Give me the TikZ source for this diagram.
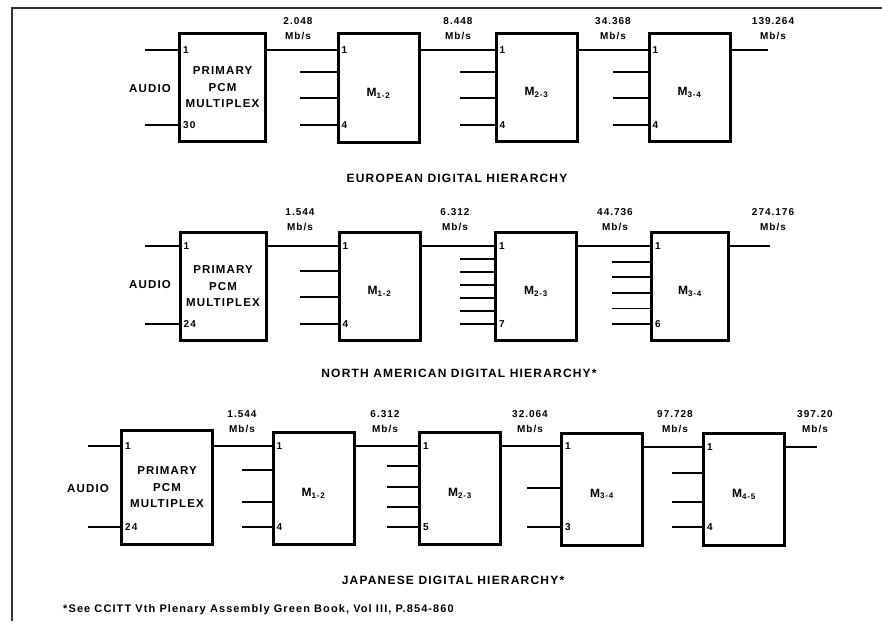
\documentclass[tikz,border=0pt]{standalone}
\usepackage{fontspec}
\setmainfont{Liberation Sans}[LetterSpace=10]
\usetikzlibrary{positioning, calc}

\newcommand\lblfont{\fontsize{11.5}{16.5}\selectfont\bfseries}
\newcommand\capfont{\fontsize{12}{14}\selectfont\bfseries}
\newcommand\ratefont{\fontsize{10}{15}\selectfont\bfseries}
\newcommand\muxfont{\fontsize{12}{14}\selectfont\bfseries}
\newcommand\notefont{\fontsize{11}{13}\selectfont\bfseries}

\begin{document}
\begin{tikzpicture}[x=1pt, y=-1pt,
  muxbox/.style={draw, line width=3pt, minimum width=81pt, minimum height=108pt, inner sep=0pt},
  pcmbox/.style={muxbox, minimum width=86pt, align=center, font=\lblfont},
  wire/.style={line width=1.8pt},
  frame/.style={line width=1.6pt, black!80},
  rate/.style={align=center, inner sep=0pt, font=\ratefont},
  portnum/.style={anchor=west, xshift=5pt, inner sep=0pt, font=\ratefont},
  muxname/.style={inner sep=0pt, yshift=-5pt, font=\muxfont},
  caption/.style={inner sep=0pt, font=\lblfont},
  heading/.style={inner sep=0pt, font=\capfont},
  note/.style={anchor=west, inner sep=0pt, font=\notefont}]

\useasboundingbox (0,0) rectangle (882,623);

% frame
\draw[frame] (882,8) -- (12,8) -- (12,621);

% ===== European: 30 ch -> 2.048 | 8.448 | 34.368 | 139.264 =====
\node[pcmbox] (pcm1) at (222.5,87.5) {PRIMARY\\PCM\\MULTIPLEX};
\node[muxbox] (m12a) at (378.5,88) {};
\node[muxbox] (m23a) at (536.5,87.5) {};
\node[muxbox] (m34a) at (689.5,87.5) {};
\node[muxname] (m12a-t) at (m12a) {M\textsubscript{1-2}};
\node[muxname] (m23a-t) at (m23a) {M\textsubscript{2-3}};
\node[muxname] (m34a-t) at (m34a) {M\textsubscript{3-4}};

\foreach \y [count=\i] in {50,125} \coordinate (pcm1-\i) at (pcm1.west |- 0,\y);
\foreach \y [count=\i] in {50,72,98,125} {
  \coordinate (m12a-\i) at (m12a.west |- 0,\y);
  \coordinate (m23a-\i) at (m23a.west |- 0,\y);
  \coordinate (m34a-\i) at (m34a.west |- 0,\y);
}
\coordinate (s0a) at (145,0);
\coordinate (s1a) at (300,0);
\coordinate (s2a) at (460,0);
\coordinate (s3a) at (613,0);
\coordinate (outa) at (768,50);

\foreach \i in {1,2} \draw[wire] (s0a |- pcm1-\i) -- (pcm1-\i);
\draw[wire] (pcm1.east |- m12a-1) -- (m12a-1);
\draw[wire] (m12a.east |- m23a-1) -- (m23a-1);
\draw[wire] (m23a.east |- m34a-1) -- (m34a-1);
\draw[wire] (m34a.east |- outa) -- (outa);
\foreach \i in {2,3,4} {
  \draw[wire] (s1a |- m12a-\i) -- (m12a-\i);
  \draw[wire] (s2a |- m23a-\i) -- (m23a-\i);
  \draw[wire] (s3a |- m34a-\i) -- (m34a-\i);
}

\node[portnum] (pcm1-n1) at (pcm1-1) {1};
\node[portnum] (pcm1-n2) at (pcm1-2) {30};
\node[portnum] (m12a-n1) at (m12a-1) {1};
\node[portnum] (m12a-n4) at (m12a-4) {4};
\node[portnum] (m23a-n1) at (m23a-1) {1};
\node[portnum] (m23a-n4) at (m23a-4) {4};
\node[portnum] (m34a-n1) at (m34a-1) {1};
\node[portnum] (m34a-n4) at (m34a-4) {4};

\node[caption] (audioa) at (150,89) {AUDIO};
\node[rate] (r1a) at (298,28.5) {2.048\\Mb/s};
\node[rate] (r2a) at (458,28.5) {8.448\\Mb/s};
\node[rate] (r3a) at (613,28.5) {34.368\\Mb/s};
\node[rate] (r4a) at (773,28.5) {139.264\\Mb/s};
\node[heading] (capa) at (457,178) {EUROPEAN DIGITAL HIERARCHY};

% ===== North American: 24 ch -> 1.544 | 6.312 | 44.736 | 274.176 =====
\node[pcmbox] (pcm2) at (223,286.5) {PRIMARY\\PCM\\MULTIPLEX};
\node[muxbox] (m12b) at (379.5,286.5) {};
\node[muxbox] (m23b) at (536,286.5) {};
\node[muxbox, minimum width=77pt] (m34b) at (690,286.5) {};
\node[muxname] (m12b-t) at (m12b) {M\textsubscript{1-2}};
\node[muxname] (m23b-t) at (m23b) {M\textsubscript{2-3}};
\node[muxname] (m34b-t) at (m34b) {M\textsubscript{3-4}};

\foreach \y [count=\i] in {246,324} \coordinate (pcm2-\i) at (pcm2.west |- 0,\y);
\foreach \y [count=\i] in {246,271,297,324} \coordinate (m12b-\i) at (m12b.west |- 0,\y);
\foreach \y [count=\i] in {246,259,272,285,298,311,324} \coordinate (m23b-\i) at (m23b.west |- 0,\y);
\foreach \y [count=\i] in {246,261.6,277.2,292.8,308.4,324} \coordinate (m34b-\i) at (m34b.west |- 0,\y);
\coordinate (s0b) at (145,0);
\coordinate (s1b) at (300,0);
\coordinate (s2b) at (460,0);
\coordinate (s3b) at (612,0);
\coordinate (outb) at (770,246);

\foreach \i in {1,2} \draw[wire] (s0b |- pcm2-\i) -- (pcm2-\i);
\draw[wire] (pcm2.east |- m12b-1) -- (m12b-1);
\draw[wire] (m12b.east |- m23b-1) -- (m23b-1);
\draw[wire] (m23b.east |- m34b-1) -- (m34b-1);
\draw[wire] (m34b.east |- outb) -- (outb);
\foreach \i in {2,3,4} \draw[wire] (s1b |- m12b-\i) -- (m12b-\i);
\foreach \i in {2,...,7} \draw[wire] (s2b |- m23b-\i) -- (m23b-\i);
\foreach \i in {2,...,6} \draw[wire] (s3b |- m34b-\i) -- (m34b-\i);

\node[portnum] (pcm2-n1) at (pcm2-1) {1};
\node[portnum] (pcm2-n2) at (pcm2-2) {24};
\node[portnum] (m12b-n1) at (m12b-1) {1};
\node[portnum] (m12b-n4) at (m12b-4) {4};
\node[portnum] (m23b-n1) at (m23b-1) {1};
\node[portnum] (m23b-n7) at (m23b-7) {7};
\node[portnum] (m34b-n1) at (m34b-1) {1};
\node[portnum] (m34b-n6) at (m34b-6) {6};

\node[caption] (audiob) at (150,285) {AUDIO};
\node[rate] (r1b) at (300,220) {1.544\\Mb/s};
\node[rate] (r2b) at (455,220) {6.312\\Mb/s};
\node[rate] (r3b) at (615,220) {44.736\\Mb/s};
\node[rate] (r4b) at (773,220) {274.176\\Mb/s};
\node[heading] (capb) at (459,373) {NORTH AMERICAN DIGITAL HIERARCHY*};

% ===== Japanese: 24 ch -> 1.544 | 6.312 | 32.064 | 97.728 | 397.20 =====
\node[pcmbox, minimum width=91pt, minimum height=114pt] (pcm3) at (167,487.5) {PRIMARY\\PCM\\MULTIPLEX};
\node[muxbox, minimum height=112pt] (m12c) at (313.5,488.5) {};
\node[muxbox, minimum height=112pt] (m23c) at (460,488.5) {};
\node[muxbox, minimum height=112pt] (m34c) at (602,489) {};
\node[muxbox, minimum height=112pt] (m45c) at (744,489.5) {};
\node[muxname] (m12c-t) at (m12c) {M\textsubscript{1-2}};
\node[muxname] (m23c-t) at (m23c) {M\textsubscript{2-3}};
\node[muxname] (m34c-t) at (m34c) {M\textsubscript{3-4}};
\node[muxname] (m45c-t) at (m45c) {M\textsubscript{4-5}};

\foreach \y [count=\i] in {446,527} \coordinate (pcm3-\i) at (pcm3.west |- 0,\y);
\foreach \y [count=\i] in {446,470,502,527} \coordinate (m12c-\i) at (m12c.west |- 0,\y);
\foreach \y [count=\i] in {446,466,487,507,527} \coordinate (m23c-\i) at (m23c.west |- 0,\y);
\foreach \y [count=\i] in {446,488,527} \coordinate (m34c-\i) at (m34c.west |- 0,\y);
\foreach \y [count=\i] in {447,473,502,527} \coordinate (m45c-\i) at (m45c.west |- 0,\y);
\coordinate (s0c) at (88,0);
\coordinate (s1c) at (242,0);
\coordinate (s2c) at (387,0);
\coordinate (s3c) at (527,0);
\coordinate (s4c) at (672,0);
\coordinate (outc) at (817,447);

\foreach \i in {1,2} \draw[wire] (s0c |- pcm3-\i) -- (pcm3-\i);
\draw[wire] (pcm3.east |- m12c-1) -- (m12c-1);
\draw[wire] (m12c.east |- m23c-1) -- (m23c-1);
\draw[wire] (m23c.east |- m34c-1) -- (m34c-1);
\draw[wire] (m34c.east |- m45c-1) -- (m45c-1);
\draw[wire] (m45c.east |- outc) -- (outc);
\foreach \i in {2,3,4} \draw[wire] (s1c |- m12c-\i) -- (m12c-\i);
\foreach \i in {2,...,5} \draw[wire] (s2c |- m23c-\i) -- (m23c-\i);
\foreach \i in {2,3} \draw[wire] (s3c |- m34c-\i) -- (m34c-\i);
\foreach \i in {2,3,4} \draw[wire] (s4c |- m45c-\i) -- (m45c-\i);

\node[portnum] (pcm3-n1) at (pcm3-1) {1};
\node[portnum] (pcm3-n2) at (pcm3-2) {24};
\node[portnum] (m12c-n1) at (m12c-1) {1};
\node[portnum] (m12c-n4) at (m12c-4) {4};
\node[portnum] (m23c-n1) at (m23c-1) {1};
\node[portnum] (m23c-n5) at (m23c-5) {5};
\node[portnum] (m34c-n1) at (m34c-1) {1};
\node[portnum] (m34c-n3) at (m34c-3) {3};
\node[portnum] (m45c-n1) at (m45c-1) {1};
\node[portnum] (m45c-n4) at (m45c-4) {4};

\node[caption] (audioc) at (88,489) {AUDIO};
\node[rate] (r1c) at (242,422) {1.544\\Mb/s};
\node[rate] (r2c) at (385,422) {6.312\\Mb/s};
\node[rate] (r3c) at (530,422) {32.064\\Mb/s};
\node[rate] (r4c) at (675,422) {97.728\\Mb/s};
\node[rate] (r5c) at (815,422) {397.20\\Mb/s};
\node[heading] (capc) at (453,580) {JAPANESE DIGITAL HIERARCHY*};

\node[note] (fn) at (63,610) {*See CCITT Vth Plenary Assembly Green Book, Vol III, P.854-860};

\end{tikzpicture}
\end{document}
